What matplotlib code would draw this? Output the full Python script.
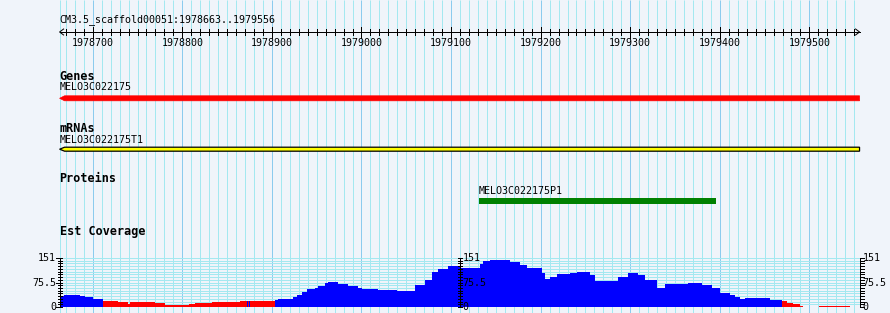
import numpy as np
from matplotlib import pyplot as plt
from matplotlib.patches import Polygon

# region shown
seq_name = "CM3.5_scaffold00051"
start, end = 1978663, 1979556

# features
gene_name = "MELO3C022175"
gene_start, gene_end = 1978663, 1979556
mrna_name = "MELO3C022175T1"
mrna_start, mrna_end = 1978663, 1979556
prot_name = "MELO3C022175P1"
prot_start, prot_end = 1979131, 1979396

# est coverage as steps: offset from start (bp) -> depth
cov_offset = [0, 5, 23, 28, 37, 48, 65, 76, 79, 106, 114, 118, 145, 151, 170, 173,
              182, 201, 209, 210, 211, 212, 240, 244, 255, 261, 265, 271, 276, 285,
              288, 296, 300, 311, 322, 326, 333, 338, 355, 377, 397, 408, 416, 422,
              434, 447, 469, 473, 480, 503, 514, 522, 538, 542, 548, 555, 570, 578,
              592, 598, 623, 635, 646, 653, 667, 676, 701, 717, 728, 737, 748, 754,
              760, 765, 782, 793, 806, 812, 819, 827, 830, 848, 882]
cov_depth = [33, 37, 33, 30, 26, 18, 14, 10, 14, 13, 11, 6, 8, 12, 14, 15,
             14, 18, 20, 18, 20, 18, 21, 24, 26, 32, 37, 47, 55, 60,
             66, 73, 78, 71, 66, 64, 58, 55, 52, 49, 68, 83, 109, 116,
             126, 119, 132, 142, 145, 140, 129, 120, 105, 86, 93, 102, 105, 107,
             100, 80, 93, 104, 100, 83, 60, 70, 74, 68, 58, 44, 37, 30,
             24, 27, 29, 21, 18, 13, 9, 3, 0, 3, 0]
cov_max = 151
low_cut = 20

# layout (pixels)
W, H = 890, 313
px_per_bp = 0.8958
x0_px = 59.6
bg = '#f0f4fa'
minor_c = '#a4e8f0'
major_c = '#8ccbee'
mono = 'DejaVu Sans Mono'
LW = 0.72  # one pixel


def bp(px):
    return px / px_per_bp


xl = start - x0_px / px_per_bp
xr = start + (W - x0_px) / px_per_bp

fig = plt.figure(figsize=(W / 100, H / 100), dpi=100)
fig.patch.set_facecolor(bg)
ax = fig.add_axes([0, 0, 1, 1])
ax.set_xlim(xl, xr)
ax.set_ylim(H, 0)
ax.axis('off')

# vertical grid
ax.vlines(start, 0, H, color=minor_c, lw=LW, zorder=0)
for p in range(1978670, end, 10):
    c = major_c if p % 100 == 0 else minor_c
    ax.vlines(p, 0, H, color=c, lw=LW, zorder=0)

# ruler
ax.text(start, 20, seq_name + ":%d..%d" % (start, end), family=mono, fontsize=7.2,
        ha='left', va='center')
ry = 32
ax.plot([start, end], [ry, ry], color='black', lw=LW)
ax.plot([start + bp(4), start, start + bp(4)], [ry - 3, ry, ry + 3], color='black', lw=LW)
ax.plot([end - bp(4), end, end - bp(4)], [ry - 3, ry, ry + 3], color='black', lw=LW)
for p in range(1978670, end, 10):
    if p % 100 == 0:
        ax.plot([p, p], [ry - 5, ry + 5.5], color='black', lw=LW)
        ax.text(p, 43, str(p), family=mono, fontsize=7.2, ha='center', va='center')
    else:
        ax.plot([p, p], [ry - 3, ry + 3], color='black', lw=LW)


def arrow_bar(s, e, yc, h, fc, ec=None):
    tip = bp(5)
    pts = [(s, yc), (s + tip, yc - h / 2), (e, yc - h / 2), (e, yc + h / 2), (s + tip, yc + h / 2)]
    poly = Polygon(pts, closed=True, facecolor=fc, edgecolor=ec if ec else fc,
                   lw=0.9 if ec else 0.5, zorder=3)
    ax.add_patch(poly)


def track_title(y, txt):
    ax.text(start, y, txt, family=mono, fontweight='bold', fontsize=8.5, ha='left', va='center')


# genes
track_title(76, "Genes")
ax.text(gene_start, 87, gene_name, family=mono, fontsize=7.2, ha='left', va='center')
arrow_bar(gene_start, gene_end, 98.3, 5, '#ff0000')

# mrnas
track_title(128.5, "mRNAs")
ax.text(mrna_start, 140, mrna_name, family=mono, fontsize=7.2, ha='left', va='center')
arrow_bar(mrna_start, mrna_end, 149.2, 4, '#ffff00', 'black')

# proteins
track_title(179, "Proteins")
ax.text(prot_start, 191, prot_name, family=mono, fontsize=7.2, ha='left', va='center')
ax.add_patch(plt.Rectangle((prot_start, 198.3), prot_end - prot_start, 5.4,
                           facecolor='#008000', lw=0, zorder=3))

# est coverage
track_title(231, "Est Coverage")
cov = fig.add_axes([0, (H - 307) / H, 1, 49 / H])
cov.set_xlim(xl, xr)
cov.set_ylim(0, cov_max)
cov.axis('off')

levels = np.linspace(0, cov_max, 19)
cov.hlines(levels, start, end, color=minor_c, lw=LW, zorder=1)

offs = np.array(cov_offset + [end - start])
lefts = start + offs[:-1]
widths = np.diff(offs)
depth = np.array(cov_depth)
colors = np.where(depth < low_cut, '#ff0000', '#0000ff')
cov.bar(lefts, depth, width=widths, align='edge', color=colors, lw=0, zorder=2)

mid = (start + end) / 2
for xa, side in [(start, 'left'), (mid, 'mid'), (end, 'right')]:
    cov.vlines(xa, 0, cov_max, color='black', lw=LW, zorder=4, clip_on=False)
    for lv in levels:
        major = lv in (0, cov_max) or abs(lv - cov_max / 2) < 0.01
        if side == 'right':
            a, b = xa, xa + bp(4)
        elif side == 'left':
            a, b = xa - bp(3.5 if major else 1.5), xa + bp(2)
        else:
            a, b = xa - bp(2), xa + bp(2.5)
        cov.plot([a, b], [lv, lv], color='black', lw=LW, zorder=4, clip_on=False)
    for lv, lab in [(cov_max, "151"), (cov_max / 2, "75.5"), (0, "0")]:
        if side == 'left':
            cov.text(xa - bp(3.5), lv, lab, family=mono, fontsize=7.2, ha='right', va='center')
        else:
            cov.text(xa + bp(3), lv, lab, family=mono, fontsize=7.2, ha='left', va='center')

fig.savefig('out.png', dpi=100, facecolor=bg)
